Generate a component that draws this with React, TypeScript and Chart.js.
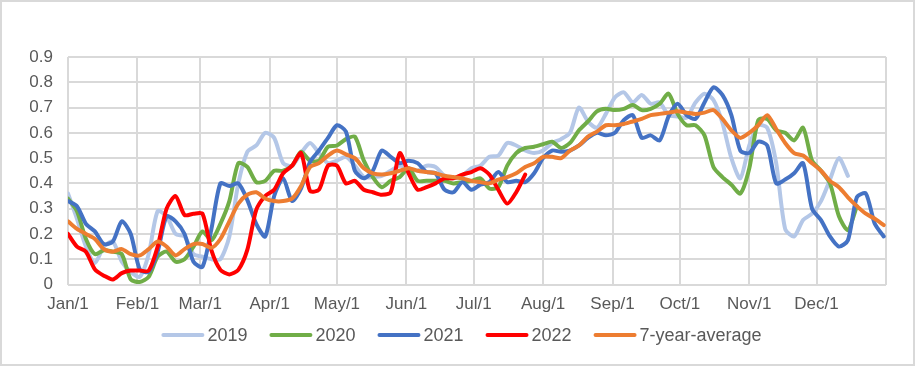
import React, { useEffect, useRef } from 'react';
import { Chart, registerables } from 'chart.js';

Chart.register(...registerables);

// day-of-year sample positions (every 4 days)
const days = [
  0, 4, 8, 12, 16, 20, 24, 28, 32, 36, 40, 44, 48, 52, 56, 60, 64, 68, 72, 76,
  80, 84, 88, 92, 96, 100, 104, 108, 112, 116, 120, 124, 128, 132, 136, 140, 144, 148, 152, 156,
  160, 164, 168, 172, 176, 180, 184, 188, 192, 196, 200, 204, 208, 212, 216, 220, 224, 228, 232, 236,
  240, 244, 248, 252, 256, 260, 264, 268, 272, 276, 280, 284, 288, 292, 296, 300, 304, 308, 312, 316,
  320, 324, 328, 332, 336, 340, 344, 348, 352, 356, 360, 364,
];

const monthDays = [0, 31, 59, 90, 120, 151, 181, 212, 243, 273, 304, 334, 365];
const monthLabels = ['Jan/1', 'Feb/1', 'Mar/1', 'Apr/1', 'May/1', 'Jun/1', 'Jul/1', 'Aug/1', 'Sep/1', 'Oct/1', 'Nov/1', 'Dec/1', ''];

const s2019 = [
  0.36, 0.26, 0.15, 0.085, 0.15, 0.17, 0.09, 0.05, 0.03, 0.12, 0.29, 0.27, 0.2, 0.19, 0.12, 0.11, 0.1, 0.1, 0.19, 0.4,
  0.525, 0.55, 0.6, 0.58, 0.48, 0.47, 0.52, 0.56, 0.52, 0.48, 0.49, 0.505, 0.47, 0.425, 0.425, 0.43, 0.45, 0.47, 0.46, 0.45,
  0.47, 0.465, 0.43, 0.42, 0.43, 0.46, 0.47, 0.505, 0.51, 0.56, 0.55, 0.53, 0.52, 0.53, 0.56, 0.575, 0.6, 0.7, 0.645, 0.62,
  0.675, 0.74, 0.76, 0.72, 0.75, 0.715, 0.72, 0.67, 0.665, 0.66, 0.72, 0.755, 0.73, 0.64, 0.5, 0.42, 0.55, 0.63, 0.62, 0.48,
  0.22, 0.19, 0.255, 0.28, 0.33, 0.415, 0.5, 0.43, null, null, null, null,
];

const s2020 = [
  0.34, 0.29, 0.18, 0.12, 0.135, 0.13, 0.12, 0.02, 0.01, 0.03, 0.11, 0.13, 0.09, 0.1, 0.15, 0.21, 0.175, 0.24, 0.33, 0.48,
  0.465, 0.405, 0.41, 0.45, 0.45, 0.47, 0.525, 0.49, 0.49, 0.545, 0.55, 0.575, 0.585, 0.49, 0.425, 0.385, 0.41, 0.425, 0.46, 0.41,
  0.41, 0.41, 0.41, 0.4, 0.405, 0.41, 0.42, 0.38, 0.385, 0.47, 0.52, 0.54, 0.545, 0.555, 0.565, 0.54, 0.56, 0.61, 0.645, 0.685,
  0.695, 0.69, 0.695, 0.71, 0.69, 0.695, 0.715, 0.755, 0.675, 0.63, 0.63, 0.59, 0.465, 0.425, 0.395, 0.36, 0.46, 0.65, 0.655, 0.61,
  0.6, 0.57, 0.62, 0.49, 0.45, 0.4, 0.27, 0.215, 0.31, null, null, null,
];

const s2021 = [
  0.33, 0.31, 0.24, 0.21, 0.16, 0.17, 0.25, 0.2, 0.06, 0.05, 0.13, 0.27, 0.25, 0.2, 0.09, 0.07, 0.22, 0.4, 0.39, 0.4,
  0.335, 0.24, 0.19, 0.35, 0.42, 0.33, 0.38, 0.485, 0.53, 0.58, 0.63, 0.605, 0.45, 0.42, 0.45, 0.53, 0.505, 0.48, 0.49, 0.48,
  0.445, 0.44, 0.375, 0.365, 0.405, 0.375, 0.395, 0.405, 0.445, 0.405, 0.41, 0.405, 0.44, 0.5, 0.53, 0.525, 0.53, 0.55, 0.58, 0.6,
  0.59, 0.6, 0.65, 0.67, 0.58, 0.59, 0.57, 0.665, 0.715, 0.67, 0.655, 0.72, 0.78, 0.75, 0.67, 0.53, 0.52, 0.565, 0.55, 0.4,
  0.415, 0.44, 0.48, 0.3, 0.255, 0.19, 0.15, 0.175, 0.345, 0.36, 0.24, 0.19,
];

const s2022 = [
  0.2, 0.15, 0.13, 0.06, 0.035, 0.02, 0.045, 0.055, 0.055, 0.055, 0.15, 0.3, 0.35, 0.275, 0.28, 0.28, 0.135, 0.058, 0.04, 0.058,
  0.137, 0.295, 0.35, 0.375, 0.44, 0.47, 0.52, 0.37, 0.375, 0.47, 0.47, 0.4, 0.41, 0.375, 0.365, 0.355, 0.365, 0.52, 0.44, 0.375,
  0.385, 0.4, 0.42, 0.42, 0.435, 0.445, 0.46, 0.435, 0.375, 0.32, 0.365, 0.435, null, null, null, null, null, null, null, null,
  null, null, null, null, null, null, null, null, null, null, null, null, null, null, null, null, null, null, null, null,
  null, null, null, null, null, null, null, null, null, null, null, null,
];

const sAvg = [
  0.25, 0.22, 0.2, 0.18, 0.14, 0.13, 0.14, 0.12, 0.115, 0.14, 0.17, 0.15, 0.115, 0.14, 0.16, 0.16, 0.145, 0.18, 0.25, 0.32,
  0.355, 0.365, 0.34, 0.33, 0.33, 0.34, 0.39, 0.465, 0.48, 0.51, 0.53, 0.515, 0.5, 0.46, 0.44, 0.435, 0.44, 0.45, 0.46, 0.45,
  0.445, 0.44, 0.43, 0.425, 0.42, 0.41, 0.405, 0.4, 0.415, 0.425, 0.44, 0.465, 0.48, 0.505, 0.505, 0.5, 0.53, 0.55, 0.585, 0.605,
  0.63, 0.63, 0.635, 0.645, 0.655, 0.67, 0.675, 0.68, 0.685, 0.68, 0.675, 0.68, 0.69, 0.655, 0.61, 0.58, 0.6, 0.63, 0.67, 0.615,
  0.56, 0.52, 0.51, 0.48, 0.45, 0.41, 0.385, 0.345, 0.31, 0.28, 0.26, 0.235,
];

const seriesLabels = ['2019', '2020', '2021', '2022', '7-year-average'];
const seriesValues = [s2019, s2020, s2021, s2022, sAvg];
const seriesColors = ['#b4c7e7', '#70ad47', '#4472c4', '#ff0000', '#ed7d31'];

const FONT_FAMILY = '"Liberation Sans", Arial, sans-serif';

const frameAndLegend = {
  id: 'frameAndLegend',
  beforeDraw(chart: any) {
    const { ctx, width, height } = chart;
    ctx.save();
    ctx.fillStyle = '#ffffff';
    ctx.fillRect(0, 0, width, height);
    ctx.strokeStyle = '#d9d9d9';
    ctx.lineWidth = 2;
    ctx.strokeRect(1, 1, width - 2, height - 2);
    ctx.restore();
  },
  afterDraw(chart: any) {
    const { ctx, width, chartArea } = chart;
    ctx.save();
    ctx.font = '18px ' + FONT_FAMILY;
    const lineW = 43;
    const gap = 3;
    const spacing = 22;
    const widths = seriesLabels.map((l) => ctx.measureText(l).width);
    const total = widths.reduce((a, w) => a + lineW + gap + w, 0) + spacing * (seriesLabels.length - 1);
    let x = width / 2 - total / 2 + 4;
    const y = chartArea.bottom + 50.5;
    ctx.textBaseline = 'middle';
    ctx.textAlign = 'left';
    seriesLabels.forEach((label, i) => {
      ctx.strokeStyle = seriesColors[i];
      ctx.lineWidth = 4;
      ctx.lineCap = 'round';
      ctx.beginPath();
      ctx.moveTo(x + 2, y);
      ctx.lineTo(x + lineW - 2, y);
      ctx.stroke();
      ctx.fillStyle = '#595959';
      ctx.fillText(label, x + lineW + gap, y + 1);
      x += lineW + gap + widths[i] + spacing;
    });
    ctx.restore();
  },
};

export default function App() {
  const canvasRef = useRef<HTMLCanvasElement | null>(null);

  useEffect(() => {
    document.body.style.margin = '0';
    const canvas = canvasRef.current;
    if (!canvas) return;

    const datasets = seriesLabels.map((label, i) => ({
      label,
      data: days
        .map((d, j) => ({ x: d, y: seriesValues[i][j] }))
        .filter((p) => p.y !== null),
      borderColor: seriesColors[i],
      backgroundColor: seriesColors[i],
      borderWidth: 4,
      pointRadius: 0,
      tension: 0.25,
      borderCapStyle: 'round',
      borderJoinStyle: 'round',
      fill: false,
      order: seriesLabels.length - i,
    }));

    const chart = new Chart(canvas, {
      type: 'line',
      data: { datasets } as any,
      options: {
        animation: false,
        responsive: false,
        devicePixelRatio: 1,
        layout: { padding: { top: 57, right: 29, bottom: 49, left: 0 } },
        plugins: { legend: { display: false }, tooltip: { enabled: false } },
        scales: {
          x: {
            type: 'linear',
            min: 0,
            max: 365,
            afterBuildTicks: (scale: any) => {
              scale.ticks = monthDays.map((v) => ({ value: v }));
            },
            afterFit: (scale: any) => {
              scale.height = 32.5;
            },
            grid: { color: '#d9d9d9', lineWidth: 2, drawTicks: false },
            border: { display: false },
            ticks: {
              autoSkip: false,
              maxRotation: 0,
              padding: 10,
              color: '#595959',
              font: { size: 17, family: FONT_FAMILY },
              callback: (v: any) => {
                const k = monthDays.indexOf(Number(v));
                return k >= 0 ? monthLabels[k] : '';
              },
            },
          },
          y: {
            min: 0,
            max: 0.9,
            afterFit: (scale: any) => {
              scale.width = 68;
            },
            grid: { color: '#d9d9d9', lineWidth: 2, drawTicks: false },
            border: { display: false },
            ticks: {
              stepSize: 0.1,
              padding: 15,
              color: '#595959',
              font: { size: 17, family: FONT_FAMILY },
              callback: (v: any) => (Number(v) === 0 ? '0' : Number(v).toFixed(1)),
            },
          },
        },
      },
      plugins: [frameAndLegend],
    } as any);

    return () => chart.destroy();
  }, []);

  return (
    <div style={{ width: 915, height: 366 }}>
      <canvas ref={canvasRef} width={915} height={366} style={{ display: 'block' }} />
    </div>
  );
}
